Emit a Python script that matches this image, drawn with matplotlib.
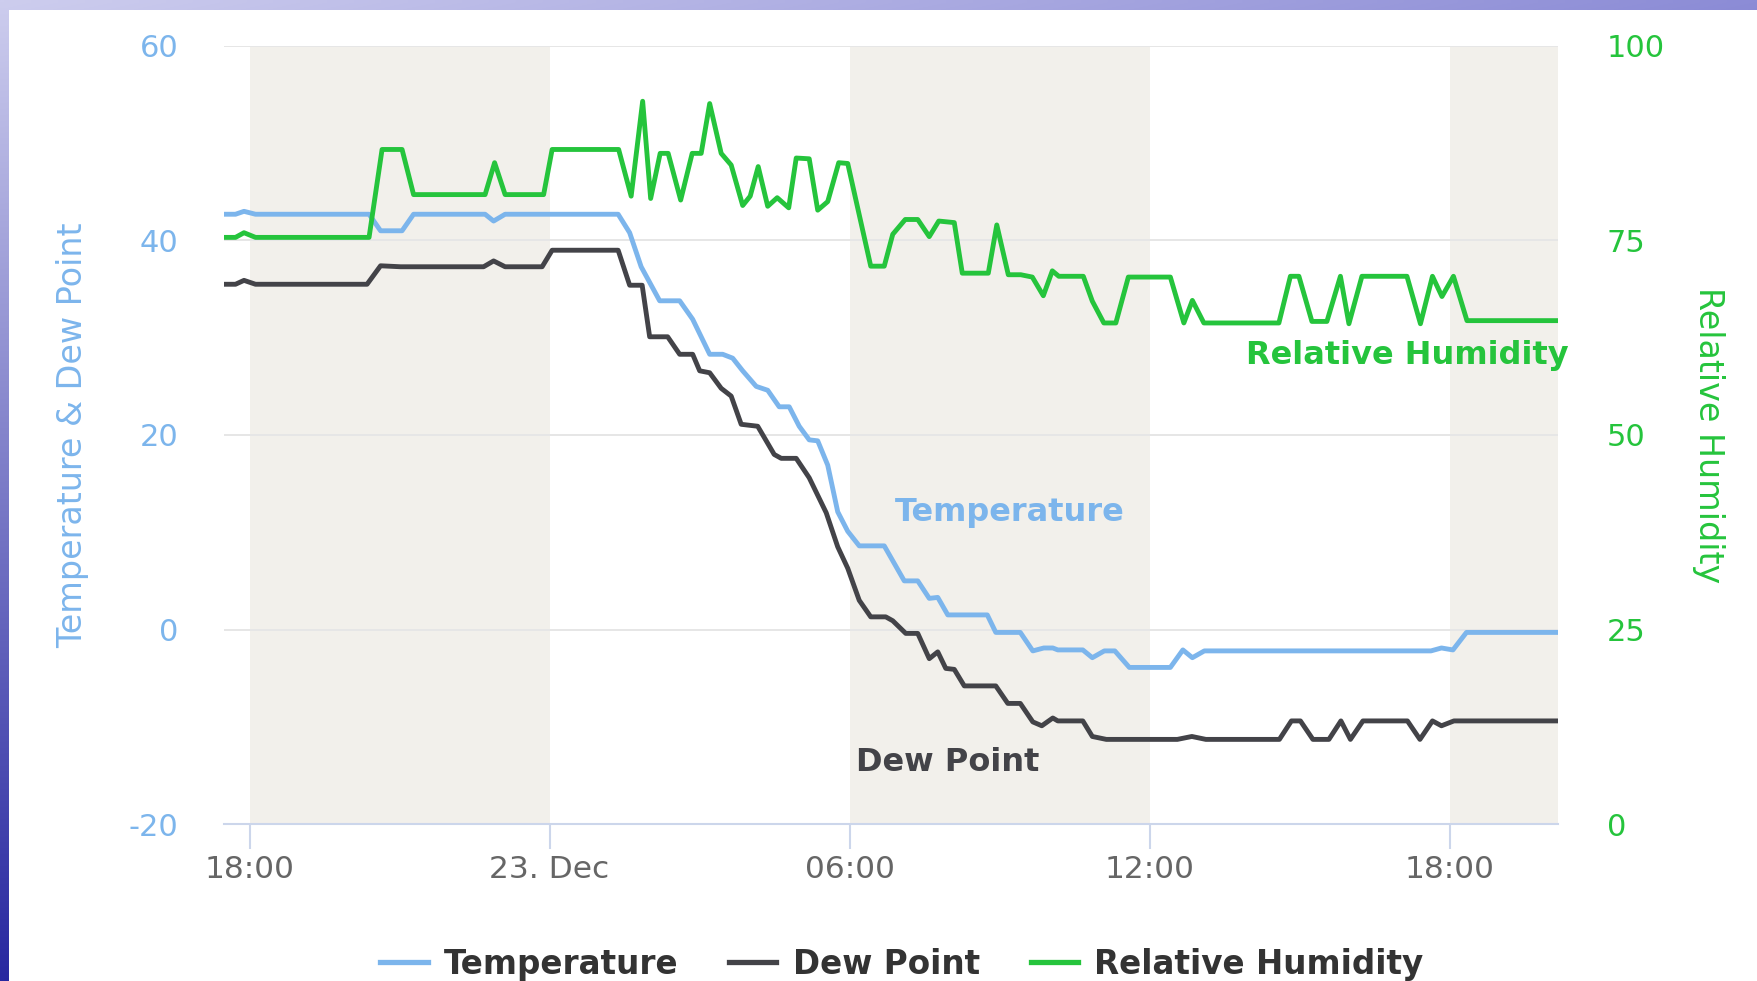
import numpy as np
import matplotlib
matplotlib.use("Agg")
import matplotlib.pyplot as plt
from matplotlib.patches import Rectangle
from matplotlib.lines import Line2D

plt.rcParams["axes.unicode_minus"] = False

# ---------------- data (time = hours since 22 Dec 00:00) ----------------
temp_t = [17.49, 17.72, 17.89, 18.12, 20.39, 20.62, 21.05, 21.28, 22.71, 22.88, 23.11,
          25.37, 25.60, 25.83, 26.20, 26.60, 26.86, 27.20, 27.46, 27.66, 27.86,
          28.13, 28.36, 28.59, 28.79, 28.99, 29.19, 29.36, 29.56, 29.76, 29.96,
          30.19, 30.69, 31.09, 31.36, 31.59, 31.76, 31.96, 32.75, 32.92, 33.41,
          33.66, 33.88, 34.06, 34.16, 34.66, 34.85, 35.09, 35.30, 35.59, 36.41,
          36.66, 36.85, 37.09, 41.62, 41.83, 42.06, 42.33, 44.16]
temp_v = [42.7, 42.7, 43.0, 42.7, 42.7, 41.0, 41.0, 42.7, 42.7, 42.0, 42.7,
          42.7, 40.8, 37.3, 33.8, 33.8, 31.9, 28.3, 28.3, 27.9, 26.6,
          25.0, 24.6, 22.9, 22.9, 20.9, 19.5, 19.4, 16.9, 12.1, 10.1,
          8.6, 8.6, 5.0, 5.0, 3.2, 3.3, 1.5, 1.5, -0.3, -0.3,
          -2.2, -1.9, -1.9, -2.1, -2.1, -2.9, -2.2, -2.2, -3.9, -3.9,
          -2.1, -2.9, -2.2, -2.2, -1.9, -2.1, -0.3, -0.3]

dew_t = [17.49, 17.72, 17.89, 18.12, 20.35, 20.62, 21.02, 22.68, 22.88, 23.11,
         23.85, 24.05, 25.37, 25.60, 25.85, 26.00, 26.36, 26.60, 26.86, 27.00,
         27.20, 27.43, 27.63, 27.83, 28.16, 28.49, 28.63, 28.93, 29.19, 29.53,
         29.76, 29.96, 30.19, 30.42, 30.72, 30.86, 31.12, 31.36, 31.59, 31.76,
         31.92, 32.09, 32.29, 32.92, 33.16, 33.41, 33.66, 33.84, 34.06, 34.16,
         34.66, 34.85, 35.13, 36.55, 36.84, 37.12, 38.59, 38.83, 39.01, 39.26,
         39.58, 39.82, 40.01, 40.26, 41.15, 41.40, 41.65, 41.83, 42.08, 44.16]
dew_v = [35.5, 35.5, 35.9, 35.5, 35.5, 37.4, 37.3, 37.3, 37.9, 37.3,
         37.3, 39.0, 39.0, 35.4, 35.4, 30.1, 30.1, 28.3, 28.3, 26.6,
         26.4, 24.8, 24.0, 21.1, 20.9, 18.0, 17.6, 17.6, 15.6, 12.0,
         8.5, 6.3, 3.0, 1.3, 1.3, 0.9, -0.4, -0.4, -3.0, -2.3,
         -4.0, -4.1, -5.8, -5.8, -7.6, -7.6, -9.5, -9.9, -9.1, -9.4,
         -9.4, -11.0, -11.3, -11.3, -11.0, -11.3, -11.3, -9.4, -9.4, -11.3,
         -11.3, -9.4, -11.3, -9.4, -9.4, -11.3, -9.4, -9.9, -9.4, -9.4]

rh_t = [17.49, 17.72, 17.89, 18.12, 20.39, 20.65, 21.05, 21.28, 22.71, 22.90,
        23.11, 23.88, 24.05, 25.38, 25.63, 25.86, 26.02, 26.21, 26.37, 26.62,
        26.85, 27.03, 27.20, 27.43, 27.63, 27.86, 28.01, 28.17, 28.36, 28.55,
        28.78, 28.93, 29.19, 29.36, 29.56, 29.78, 29.96, 30.42, 30.69, 30.86,
        31.11, 31.36, 31.59, 31.78, 32.09, 32.25, 32.77, 32.94, 33.17, 33.42,
        33.65, 33.87, 34.05, 34.18, 34.67, 34.85, 35.08, 35.32, 35.57, 36.41,
        36.68, 36.85, 37.08, 38.58, 38.81, 38.98, 39.24, 39.54, 39.81, 39.98,
        40.24, 41.14, 41.41, 41.65, 41.84, 42.07, 42.34, 44.16]
rh_v = [75.4, 75.4, 76.0, 75.4, 75.4, 86.7, 86.7, 80.9, 80.9, 85.0,
        80.9, 80.9, 86.7, 86.7, 80.7, 92.9, 80.4, 86.2, 86.2, 80.2,
        86.2, 86.2, 92.6, 86.2, 84.7, 79.5, 80.7, 84.5, 79.4, 80.5,
        79.2, 85.6, 85.5, 78.9, 80.0, 85.0, 84.9, 71.7, 71.7, 75.8,
        77.7, 77.7, 75.5, 77.5, 77.3, 70.8, 70.8, 77.0, 70.6, 70.6,
        70.3, 67.9, 71.1, 70.4, 70.4, 67.2, 64.4, 64.4, 70.3, 70.3,
        64.4, 67.3, 64.4, 64.4, 70.4, 70.4, 64.6, 64.6, 70.4, 64.3,
        70.4, 70.4, 64.3, 70.4, 67.8, 70.4, 64.7, 64.7]

series_names = ["Temperature", "Dew Point", "Relative Humidity"]
x_tick_pos = [18, 24, 30, 36, 42]
x_tick_labels = ["18:00", "23. Dec", "06:00", "12:00", "18:00"]
left_ticks = [-20, 0, 20, 40, 60]
right_ticks = [0, 25, 50, 75, 100]
night_starts = [18, 30, 42]
night_len = 6

# ---------------- style ----------------
BLUE = "#7cb5ec"
DARK = "#434348"
GREEN = "#25c43c"
LW = 3.5
W, H = 1758, 981
fig = plt.figure(figsize=(W / 100, H / 100), dpi=100)

# textured border background
bg = fig.add_axes([0, 0, 1, 1], zorder=-10)
bg.set_axis_off()
u = np.linspace(0, 1, 200)[None, :, None]
v = np.linspace(0, 1, 200)[:, None, None]
TL = np.array([205, 205, 238]) / 255
TR = np.array([140, 140, 214]) / 255
BL = np.array([40, 40, 160]) / 255
img = np.clip(TL + (TR - TL) * u + (BL - TL) * v, 0, 1)
bg.imshow(img, extent=[0, 1, 0, 1], aspect="auto", origin="upper", interpolation="bilinear")
bg.add_patch(Rectangle((9 / W, 0), 1, 1 - 10 / H, facecolor="white", edgecolor="none"))
bg.set_xlim(0, 1)
bg.set_ylim(0, 1)

L, R, T, B = 224, 1558, 46, 824
ax = fig.add_axes([L / W, 1 - B / H, (R - L) / W, (B - T) / H])
ax.set_facecolor("white")
ax2 = ax.twinx()

for s in night_starts:
    ax.axvspan(s, s + night_len, color="#f2f0eb", zorder=0, lw=0)

ax.plot(temp_t, temp_v, color=BLUE, lw=LW, zorder=3, solid_joinstyle="round")
ax.plot(dew_t, dew_v, color=DARK, lw=LW, zorder=3, solid_joinstyle="round")
ax2.plot(rh_t, rh_v, color=GREEN, lw=LW, zorder=3, solid_joinstyle="round")

ax.set_xlim(17.49, 44.16)
ax.set_ylim(-20, 60)
ax2.set_ylim(0, 100)

ax.set_axisbelow(True)
ax.set_yticks(left_ticks)
ax2.set_yticks(right_ticks)
ax.grid(axis="y", color="#e6e6e6", lw=1.4)
ax.set_xticks(x_tick_pos)
ax.set_xticklabels(x_tick_labels)

for a in (ax, ax2):
    for sp in ("top", "left", "right"):
        a.spines[sp].set_visible(False)
ax2.spines["bottom"].set_visible(False)
ax.spines["bottom"].set_color("#ccd6eb")
ax.spines["bottom"].set_linewidth(1.5)

ax.tick_params(axis="x", colors="#ccd6eb", length=18, width=1.5, pad=4,
               labelsize=22.5, labelcolor="#666666")
ax.tick_params(axis="y", length=0, pad=33, labelsize=22, labelcolor=BLUE)
ax2.tick_params(axis="y", length=0, pad=35, labelsize=22, labelcolor=GREEN)

ax.set_ylabel("Temperature & Dew Point", color=BLUE, fontsize=24)
ax.yaxis.label.set_va("center")
ax.yaxis.set_label_coords((73 - L) / (R - L), 0.5)
ax2.set_ylabel("Relative Humidity", color=GREEN, fontsize=24, rotation=270)
ax2.yaxis.label.set_va("center")
ax2.yaxis.set_label_coords((1709 - L) / (R - L), 0.5)

# inline series labels
ax.text(30.9, 11.2, "Temperature", color=BLUE, fontsize=23, fontweight="bold",
        va="baseline", ha="left", zorder=5)
ax.text(30.13, -14.5, "Dew Point", color=DARK, fontsize=23, fontweight="bold",
        va="baseline", ha="left", zorder=5)
ax2.text(37.92, 59.1, "Relative Humidity", color=GREEN, fontsize=23, fontweight="bold",
         va="baseline", ha="left", zorder=5, clip_on=False)

handles = [Line2D([0], [0], color=c, lw=3.8) for c in (BLUE, DARK, GREEN)]
fig.legend(handles, series_names, loc="center", bbox_to_anchor=(0.513, 0.017), ncol=3,
           frameon=False, prop={"size": 23.5, "weight": "bold"}, labelcolor="#333333",
           handlelength=1.45, handletextpad=0.5, columnspacing=1.55)

fig.savefig("out.png", dpi=100)
